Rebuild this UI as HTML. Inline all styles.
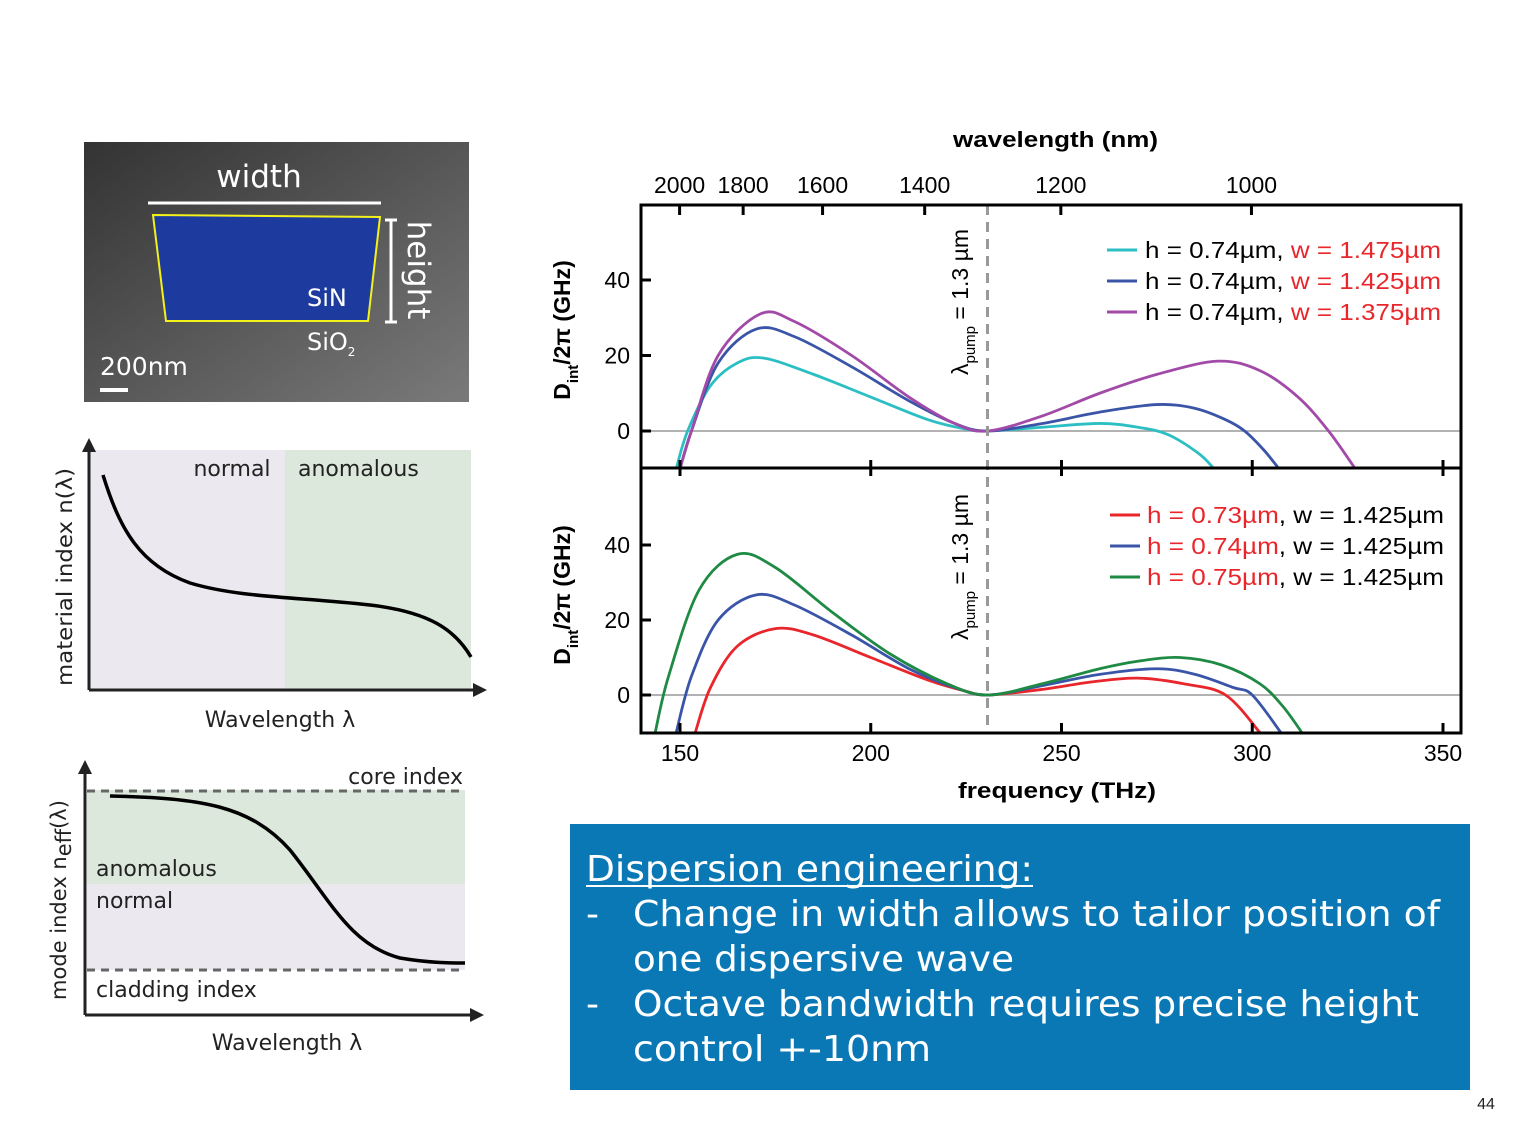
<!DOCTYPE html>
<html><head><meta charset="utf-8"><style>
html,body{margin:0;padding:0;background:#fff;width:1513px;height:1128px;overflow:hidden}
svg{display:block;font-family:"Liberation Sans",sans-serif}
.dv{font-family:"DejaVu Sans","Liberation Sans",sans-serif}
</style></head><body>
<svg id="s" width="1513" height="1128" viewBox="0 0 1513 1128">
<defs>
<linearGradient id="sem" x1="0" y1="0" x2="1" y2="1"><stop offset="0" stop-color="#333"/><stop offset="1" stop-color="#7a7a7a"/></linearGradient>
<clipPath id="cTop"><rect x="641" y="205" width="820" height="263"/></clipPath>
<clipPath id="cBot"><rect x="641" y="468" width="820" height="265"/></clipPath>
</defs>
<g class="dv">
<rect x="84" y="142" width="385" height="260" fill="url(#sem)"/>
<text x="259" y="187" fill="#fff" font-size="31" text-anchor="middle">width</text>
<line x1="148" y1="203" x2="381" y2="203" stroke="#fff" stroke-width="3"/>
<polygon points="153,215 380,217 368,321 166,321" fill="#1d3b9e" stroke="#f4f01a" stroke-width="2"/>
<line x1="391" y1="220" x2="391" y2="322" stroke="#fff" stroke-width="3"/>
<line x1="385" y1="220" x2="397" y2="220" stroke="#fff" stroke-width="3"/>
<line x1="385" y1="322" x2="397" y2="322" stroke="#fff" stroke-width="3"/>
<text transform="translate(408,270) rotate(90)" fill="#fff" font-size="31" text-anchor="middle">height</text>
<text x="307" y="306" fill="#fff" font-size="24">SiN</text>
<text x="307" y="350" fill="#fff" font-size="24">SiO<tspan font-size="12" dy="6">2</tspan></text>
<text x="100" y="375" fill="#fff" font-size="25">200nm</text>
<line x1="100" y1="390" x2="128" y2="390" stroke="#fff" stroke-width="4"/>
</g>
<g class="dv">
<rect x="90" y="450" width="195" height="240" fill="#ebe8ef"/>
<rect x="285" y="450" width="186" height="240" fill="#dce8dc"/>
<line x1="89" y1="448" x2="89" y2="690" stroke="#222" stroke-width="3"/>
<polygon points="89,438 82,452 96,452" fill="#222"/>
<line x1="89" y1="690" x2="476" y2="690" stroke="#222" stroke-width="3"/>
<polygon points="487,690 473,683 473,697" fill="#222"/>
<path d="M103,475 C120,530 140,565 190,583 C240,598 300,597 370,605 C430,612 455,630 471,657" fill="none" stroke="#000" stroke-width="3.5"/>
<text x="232" y="476" font-size="22" text-anchor="middle" fill="#222">normal</text>
<text x="298" y="476" font-size="22" fill="#222">anomalous</text>
<text transform="translate(72,577) rotate(-90)" font-size="21" text-anchor="middle" fill="#222" textLength="218" lengthAdjust="spacingAndGlyphs">material index  n(λ)</text>
<text x="280" y="727" font-size="22" text-anchor="middle" fill="#222">Wavelength λ</text>
</g>
<g class="dv">
<rect x="87" y="790" width="378" height="94" fill="#dce8dc"/>
<rect x="87" y="884" width="378" height="86" fill="#ebe8ef"/>
<line x1="87" y1="791" x2="465" y2="791" stroke="#666" stroke-width="3" stroke-dasharray="8,6"/>
<line x1="87" y1="970" x2="465" y2="970" stroke="#666" stroke-width="3" stroke-dasharray="8,6"/>
<line x1="85" y1="770" x2="85" y2="1015" stroke="#222" stroke-width="3"/>
<polygon points="85,760 78,774 92,774" fill="#222"/>
<line x1="85" y1="1015" x2="473" y2="1015" stroke="#222" stroke-width="3"/>
<polygon points="484,1015 470,1008 470,1022" fill="#222"/>
<path d="M110,796 C200,798 250,805 290,850 C330,900 350,945 400,958 C430,963 450,963 465,963" fill="none" stroke="#000" stroke-width="3.5"/>
<text x="463" y="784" font-size="22" text-anchor="end" fill="#222">core index</text>
<text x="96" y="876" font-size="22" fill="#222">anomalous</text>
<text x="96" y="908" font-size="22" fill="#222">normal</text>
<text x="96" y="997" font-size="22" fill="#222">cladding index</text>
<text transform="translate(66,900) rotate(-90)" font-size="21" text-anchor="middle" fill="#222">mode index n<tspan dy="5">eff</tspan><tspan dy="-5">(λ)</tspan></text>
<text x="287" y="1050" font-size="22" text-anchor="middle" fill="#222">Wavelength λ</text>
</g>
<g id="chart"></g>
<g class="dv">
<rect x="570" y="824" width="900" height="266" fill="#0a78b5"/>
<text x="586" y="881" font-size="36" fill="#fff" textLength="447" lengthAdjust="spacingAndGlyphs">Dispersion engineering:</text>
<line x1="586" y1="886" x2="1033" y2="886" stroke="#fff" stroke-width="2"/>
<text x="586" y="926" font-size="36" fill="#fff">-</text>
<text x="633" y="926" font-size="36" fill="#fff" textLength="807" lengthAdjust="spacingAndGlyphs">Change in width allows to tailor position of</text>
<text x="633" y="971" font-size="36" fill="#fff" textLength="381" lengthAdjust="spacingAndGlyphs">one dispersive wave</text>
<text x="586" y="1016" font-size="36" fill="#fff">-</text>
<text x="633" y="1016" font-size="36" fill="#fff" textLength="786" lengthAdjust="spacingAndGlyphs">Octave bandwidth requires precise height</text>
<text x="633" y="1061" font-size="36" fill="#fff" textLength="298" lengthAdjust="spacingAndGlyphs">control +-10nm</text>
</g>
<text x="1486" y="1109" font-size="16" text-anchor="middle" fill="#222">44</text>
</svg>
<script>
const freqTicks=[150,200,250,300,350];
const yTicks=[0,20,40];
const wlTicks=[2000,1800,1600,1400,1200,1000];
const pumpFreq=230.6;
const topCyan=[[149,-10],[152,0],[158,12],[165,18],[172,19.3],[185,15],[200,9],[215,3],[225,0.5],[230.7,0],[245,1],[260,2],[270,1],[278,-1],[286,-6],[290,-10]];
const topBlue=[[150,-10],[153,0],[160,18],[170,27],[180,25],[195,17],[210,8],[222,2],[230.7,0],[245,2],[260,5],[275,7],[285,6],[293,3],[298,0],[303,-5],[307,-10]];
const topPurple=[[150,-10],[153,0],[160,20],[171,31],[180,29],[195,20],[210,9],[222,2],[230.7,0],[245,4],[260,10],[275,15],[291,18.5],[302,16],[312,9],[320,0],[327,-10]];
const botGreen=[[143.5,-10],[147,5],[155,28],[165,37.5],[175,34],[190,22],[205,11],[220,3],[230.7,0],[245,3],[260,7],[270,9],[281,10],[292,8],[302,3],[308,-3],[313,-10]];
const botBlue=[[149,-10],[153,5],[160,20],[170,26.7],[180,24],[195,16],[210,7],[222,2],[230.7,0],[245,2.5],[260,5.5],[275,7],[285,5.5],[295,2],[300,0],[307.5,-10]];
const botRed=[[154,-10],[158,2],[165,13],[175,17.7],[185,16],[200,10],[215,4],[225,1],[230.7,0],[245,1.5],[258,3.5],[270,4.5],[282,3],[293,0],[302,-10]];
const NS="http://www.w3.org/2000/svg";
const g=document.getElementById('chart');
const X=f=>680+(f-150)*(1443-680)/200;
const Ytop=d=>431-d*(431-280)/40;
const Ybot=d=>695-d*(695-545)/40;
function el(t,a,p){const e=document.createElementNS(NS,t);for(const k in a)e.setAttribute(k,a[k]);(p||g).appendChild(e);return e;}
function txt(x,y,s,a){const e=el('text',Object.assign({x:x,y:y,'font-size':22,fill:'#000'},a||{}));e.textContent=s;return e;}
function path(pts,Y){const P=pts.map(p=>[X(p[0]),Y(p[1])]);let d='M'+P[0][0]+','+P[0][1];
 for(let i=0;i<P.length-1;i++){const p0=P[i-1]||P[i],p1=P[i],p2=P[i+1],p3=P[i+2]||P[i+1];
 d+=' C'+(p1[0]+(p2[0]-p0[0])/6)+','+(p1[1]+(p2[1]-p0[1])/6)+' '+(p2[0]-(p3[0]-p1[0])/6)+','+(p2[1]-(p3[1]-p1[1])/6)+' '+p2[0]+','+p2[1];}return d;}
let z=el('line',{x1:641,x2:1461,y1:Ytop(0),y2:Ytop(0),stroke:'#999','stroke-width':1.5});


z=el('line',{x1:641,x2:1461,y1:Ybot(0),y2:Ybot(0),stroke:'#999','stroke-width':1.5});


const series=[[topCyan,'#2bbfc4',Ytop,'cTop','top-cyan-curve'],[topBlue,'#3a55a8',Ytop,'cTop','top-blue-curve'],[topPurple,'#a24aa8',Ytop,'cTop','top-purple-curve'],
[botRed,'#e8262b',Ybot,'cBot','bottom-red-curve'],[botBlue,'#3a55a8',Ybot,'cBot','bottom-blue-curve'],[botGreen,'#1f8a44',Ybot,'cBot','bottom-green-curve']];
series.forEach(s=>{const p=el('path',{d:path(s[0],s[2]),fill:'none',stroke:s[1],'stroke-width':2.8,'clip-path':'url(#'+s[3]+')'});

});
const pl=el('line',{x1:X(pumpFreq),x2:X(pumpFreq),y1:205,y2:733,stroke:'#999','stroke-width':3,'stroke-dasharray':'10,7'});


const fr=el('rect',{x:641,y:205,width:820,height:528,fill:'none',stroke:'#000','stroke-width':3});


el('line',{x1:641,x2:1461,y1:468,y2:468,stroke:'#000','stroke-width':3});
freqTicks.forEach(f=>{el('line',{x1:X(f),x2:X(f),y1:733,y2:723,stroke:'#000','stroke-width':3});
 el('line',{x1:X(f),x2:X(f),y1:468,y2:460,stroke:'#000','stroke-width':3});
 el('line',{x1:X(f),x2:X(f),y1:468,y2:476,stroke:'#000','stroke-width':3});
 const t=txt(X(f),761,String(f),{'text-anchor':'middle','font-size':23});
 
 });
wlTicks.forEach(w=>{const f=299792.458/w;el('line',{x1:X(f),x2:X(f),y1:205,y2:215,stroke:'#000','stroke-width':3});
 const t=txt(X(f),193,String(w),{'text-anchor':'middle','font-size':23});
 
 });
[Ytop,Ybot].forEach(Y=>yTicks.forEach(v=>{el('line',{x1:641,x2:651,y1:Y(v),y2:Y(v),stroke:'#000','stroke-width':3});
 const t=txt(630,Y(v)+8,String(v),{'text-anchor':'end','font-size':23});
 
 }));
let t=txt(953,147,'wavelength (nm)',{'font-weight':'bold',textLength:205,lengthAdjust:'spacingAndGlyphs'});


t=txt(958,798,'frequency (THz)',{'font-weight':'bold',textLength:198,lengthAdjust:'spacingAndGlyphs'});


[[330,'top'],[595,'bottom']].forEach(a=>{const e=el('text',{transform:'translate(570,'+a[0]+') rotate(-90)','font-size':23,'font-weight':'bold','text-anchor':'middle'});
 e.innerHTML='D<tspan font-size="15" dy="8">int</tspan><tspan dy="-8">/2π (GHz)</tspan>';
 
 
 const p=el('text',{transform:'translate(968,'+(a[0]-28)+') rotate(-90)','font-size':23,'text-anchor':'middle'});
 p.innerHTML='λ<tspan font-size="15" dy="7">pump</tspan><tspan dy="-7"> = 1.3 µm</tspan>';
 
 });
const legTop=[['#2bbfc4','1.475'],['#3a55a8','1.425'],['#a24aa8','1.375']];
legTop.forEach((l,i)=>{const y=250+i*31;el('line',{x1:1107,x2:1137,y1:y,y2:y,stroke:l[0],'stroke-width':3});
 const e=el('text',{x:1145,y:y+8,'font-size':23,textLength:296,lengthAdjust:'spacingAndGlyphs'});e.innerHTML='h = 0.74µm, <tspan fill="#e8262b">w = '+l[1]+'µm</tspan>';
 
 });
const legBot=[['#e8262b','0.73'],['#3a55a8','0.74'],['#1f8a44','0.75']];
legBot.forEach((l,i)=>{const y=515+i*31;el('line',{x1:1110,x2:1140,y1:y,y2:y,stroke:l[0],'stroke-width':3});
 const e=el('text',{x:1147,y:y+8,'font-size':23,textLength:297,lengthAdjust:'spacingAndGlyphs'});e.innerHTML='<tspan fill="#e8262b">h = '+l[1]+'µm</tspan>, w = 1.425µm';
 
 });
</script>
</body></html>
